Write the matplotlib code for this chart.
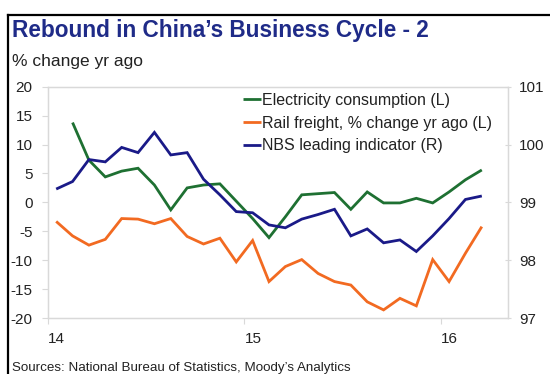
import numpy as np
import pandas as pd
import matplotlib
matplotlib.use('Agg')
import matplotlib.pyplot as plt
from matplotlib.lines import Line2D

plt.rcParams['font.family'] = ['Liberation Sans', 'DejaVu Sans']

# monthly observations, Jan 2014 .. Mar 2016
months = pd.period_range('2014-01', '2016-03', freq='M')

# electricity consumption, % yoy (Jan figures are folded into Feb)
electricity = [np.nan, 13.8, 7.3, 4.4, 5.4, 5.9, 3.0, -1.3, 2.5, 3.0, 3.2, 0.2,
               -2.8, -6.1, -2.5, 1.3, 1.5, 1.7, -1.2, 1.8, -0.1, -0.1, 0.7, -0.1,
               1.8, 3.9, 5.6]
# rail freight, % yoy
rail_freight = [-3.3, -5.8, -7.4, -6.4, -2.8, -2.9, -3.7, -2.8, -5.9, -7.2, -6.2, -10.3,
                -6.6, -13.7, -11.1, -9.9, -12.3, -13.7, -14.3, -17.2, -18.6, -16.6, -17.9, -9.9,
                -13.7, -8.8, -4.2]
# NBS leading indicator, index (right axis)
nbs_leading = [99.23, 99.36, 99.74, 99.70, 99.95, 99.86, 100.21, 99.82, 99.86, 99.40, 99.13, 98.84,
               98.82, 98.61, 98.56, 98.71, 98.79, 98.88, 98.42, 98.54, 98.30, 98.35, 98.15, 98.42,
               98.72, 99.05, 99.11]

left_ticks = [-20, -15, -10, -5, 0, 5, 10, 15, 20]
right_ticks = [97, 98, 99, 100, 101]
year_ticks = [2014, 2015, 2016]
year_labels = ['14', '15', '16']

GREEN = '#1E7032'
ORANGE = '#F26A21'
BLUE = '#1A1A88'
GRID = '#D9D9D9'
TEXT = '#222222'

# plot months at mid-month
x = np.array([p.year + (p.month - 0.5) / 12 for p in months])


def plot_series(ax, values, color, label):
    y = np.array(values, dtype=float)
    ok = ~np.isnan(y)
    return ax.plot(x[ok], y[ok], color=color, lw=2.0, label=label,
                   solid_joinstyle='miter', solid_capstyle='butt')[0]


fig = plt.figure(figsize=(5.5, 3.74), dpi=100)
ax = fig.add_axes([48 / 550, 1 - 318 / 374, 460 / 550, 231.3 / 374])
ax2 = ax.twinx()

h1 = plot_series(ax, electricity, GREEN, 'Electricity consumption (L)')
h2 = plot_series(ax, rail_freight, ORANGE, 'Rail freight, % change yr ago (L)')
h3 = plot_series(ax2, nbs_leading, BLUE, 'NBS leading indicator (R)')

ax.set_xlim(2014, 2014 + 28.1 / 12)
ax.set_ylim(-20, 20)
ax2.set_ylim(97, 101)
ax.set_yticks(left_ticks)
ax.set_yticklabels([str(t) for t in left_ticks])
ax2.set_yticks(right_ticks)
ax2.set_yticklabels([str(t) for t in right_ticks])
ax.set_xticks(year_ticks)
ax.set_xticklabels(year_labels, ha='left')

for a in (ax, ax2):
    for s in a.spines.values():
        s.set_color(GRID)
        s.set_linewidth(0.9)
ax.tick_params(axis='y', length=4, color=GRID, labelsize=11, labelcolor=TEXT, pad=7)
ax.tick_params(axis='x', length=4, color=GRID, labelsize=11, labelcolor=TEXT, pad=6)
ax2.tick_params(axis='y', length=4, direction='inout', color=GRID, labelsize=11,
                labelcolor=TEXT, pad=6)

fig.legend([h1, h2, h3], [h.get_label() for h in (h1, h2, h3)],
           loc='upper left', bbox_to_anchor=(243 / 550, 1 - 93 / 374),
           frameon=False, fontsize=11.5, handlelength=1.1, handletextpad=0.1,
           labelspacing=0.48, borderpad=0, borderaxespad=0, labelcolor=TEXT)

fig.text(12 / 550, 1 - 37 / 374, "Rebound in China\u2019s Business Cycle - 2",
         fontsize=16.3, fontweight='bold', color='#1F2B88', va='baseline')
fig.text(12 / 550, 1 - 66 / 374, '% change yr ago', fontsize=12.5, color=TEXT, va='baseline')
fig.text(12 / 550, 1 - 371 / 374, "Sources: National Bureau of Statistics, Moody\u2019s Analytics",
         fontsize=9.6, color=TEXT, va='baseline')

# black frame on the top and left edges
fig.add_artist(Line2D([8 / 550, 8 / 550], [0, 1 - 15 / 374], color='black', lw=1.6,
                      transform=fig.transFigure))
fig.add_artist(Line2D([8 / 550, 1], [1 - 15 / 374, 1 - 15 / 374], color='black', lw=1.6,
                      transform=fig.transFigure))

fig.savefig('out.png', dpi=100)
